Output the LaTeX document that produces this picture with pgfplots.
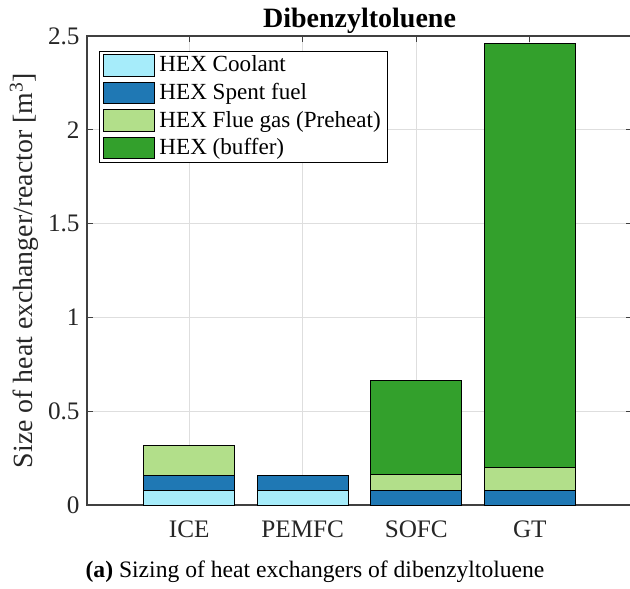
\documentclass[border=0pt]{standalone}
\usepackage{fontspec}
\setmainfont{Liberation Serif}
\usepackage{pgfplots}
\usepackage{pgfplotstable}
\pgfplotsset{compat=1.18}

% Paired-style palette for the four heat exchanger types
\definecolor{hexcool}{RGB}{166,236,250}
\definecolor{hexspent}{RGB}{31,120,180}
\definecolor{hexflue}{RGB}{178,223,138}
\definecolor{hexbuffer}{RGB}{51,160,44}
\definecolor{axgray}{gray}{0.15}

% Heat exchanger volumes [m^3] per conversion technology
\pgfplotstableread{
x coolant spent flue  buffer
1 0.078   0.080 0.157 0
2 0.078   0.080 0     0
3 0       0.078 0.086 0.500
4 0       0.078 0.123 2.260
}\hexdata

\pgfplotsset{
  hex legend/.style={
    legend image code/.code={%
      \draw[##1] (0pt,-5.3pt) rectangle (25pt,5.3pt);
      \path (26.2pt,0pt);}
  },
  hexbar/.style={draw=black, line width=0.5pt, hex legend},
}

\begin{document}
\begin{tikzpicture}
\begin{axis}[
  name=main,
  scale only axis,
  width=272.5pt, height=234.5pt,
  xmin=0.1, xmax=4.9, ymin=0, ymax=2.5,
  ybar stacked, bar width=0.8,
  xtick={1,2,3,4}, xticklabels={ICE,PEMFC,SOFC,GT},
  ytick={0,0.5,1,1.5,2,2.5},
  tick align=inside,
  major tick length=2.8pt,
  xmajorgrids, ymajorgrids,
  grid style={line width=0.5pt, draw=black!13},
  axis line style={draw=black!75, line width=0.6pt},
  every tick/.style={draw=black!75, line width=0.5pt},
  /pgf/number format/assume math mode=true,
  ticklabel style={font=\fontsize{12.6}{15}\selectfont, text=axgray},
  xticklabel style={anchor=base, yshift=-16pt},
  yticklabel style={inner sep=0pt, xshift=-3.5pt},
  every axis title shift=0pt,
  title={Dibenzyltoluene},
  title style={at={(axis description cs:0.5,1)}, anchor=base, yshift=4pt,
    inner sep=0pt, font=\bfseries\fontsize{14}{16}\selectfont},
  ylabel={Size of heat exchanger/reactor [m\textsuperscript{3}]},
  ylabel style={at={(axis description cs:0,0.5)}, anchor=base, yshift=27pt,
    inner sep=0pt, font=\fontsize{13.9}{16}\selectfont, text=axgray},
  legend style={at={(axis description cs:0,1)}, anchor=north west,
    xshift=5.8pt, yshift=-7.5pt, draw=black, line width=0.5pt,
    inner xsep=2.2pt, inner ysep=0.9pt, row sep=1.6pt,
    nodes={inner sep=1.3pt},
    font=\fontsize{11.55}{13}\selectfont},
  legend cell align=left,
]
\addplot[hexbar, fill=hexcool]   table[x=x, y=coolant] {\hexdata};
\addlegendentry{HEX Coolant}
\addplot[hexbar, fill=hexspent]  table[x=x, y=spent]   {\hexdata};
\addlegendentry{HEX Spent fuel}
\addplot[hexbar, fill=hexflue]   table[x=x, y=flue]    {\hexdata};
\addlegendentry{HEX Flue gas (Preheat)}
\addplot[hexbar, fill=hexbuffer] table[x=x, y=buffer]  {\hexdata};
\addlegendentry{HEX (buffer)}
\end{axis}
\node[anchor=base, inner sep=0pt, font=\fontsize{11.8}{14}\selectfont]
  at ([xshift=114pt, yshift=-36pt]main.south west)
  {\textbf{(a)} Sizing of heat exchangers of dibenzyltoluene};
\pgfresetboundingbox
\path ([xshift=-43.5pt, yshift=-41.5pt]main.south west)
  rectangle ([xshift=271.5pt, yshift=252.5pt]main.south west);
\end{tikzpicture}
\end{document}
